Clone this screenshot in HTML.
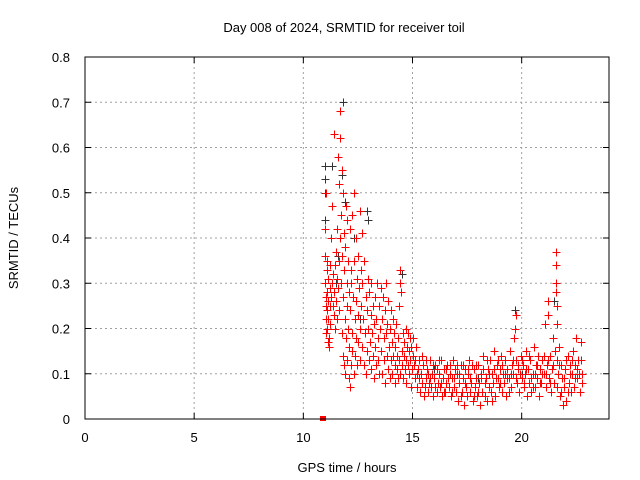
<!DOCTYPE html>
<html><head><meta charset="utf-8"><style>
body{margin:0;background:#fff;font-family:"Liberation Sans",sans-serif}
svg{display:block}
text{font-family:"Liberation Sans",sans-serif;font-size:13px;fill:#000}
</style></head><body>
<svg id="chart" width="640" height="480">
<rect width="640" height="480" fill="#fff"/>
<text x="344" y="32" text-anchor="middle">Day 008 of 2024, SRMTID for receiver toil</text>
<text x="347" y="472" text-anchor="middle">GPS time / hours</text>
<text transform="translate(18,238) rotate(-90)" text-anchor="middle">SRMTID / TECUs</text>
<g id="grid"></g>
<g id="ticks"></g>
<g id="black"></g>
<g id="red"></g>
<rect x="85" y="57" width="524" height="362" fill="none" stroke="#000" stroke-width="1"/>
</svg>
<script>
const xTicks=[0,5,10,15,20];
const yTicks=[0,0.1,0.2,0.3,0.4,0.5,0.6,0.7,0.8];
const yTickLabels=["0","0.1","0.2","0.3","0.4","0.5","0.6","0.7","0.8"];
const blackPoints=[[11.0,0.56],[11.0,0.53],[11.0,0.5],[11.0,0.44],[11.3,0.56],[11.8,0.7],[11.75,0.54],[11.9,0.48],[12.9,0.46],[12.95,0.44],[11.6,0.36],[12.3,0.4],[14.5,0.32],[21.5,0.26],[19.7,0.24],[11.5,0.3],[12.6,0.22],[16.0,0.11],[18.0,0.09],[20.0,0.1]];
const redPoints=[[11.0,0.36],[11.0,0.3],[11.02,0.27],[11.03,0.25],[11.05,0.22],[11.05,0.19],[11.07,0.33],[11.08,0.28],[11.1,0.24],[11.1,0.2],[11.12,0.17],[11.13,0.31],[11.15,0.26],[11.15,0.22],[11.17,0.18],[11.18,0.16],[11.2,0.29],[11.2,0.34],[11.22,0.25],[11.23,0.21],[11.25,0.27],[11.25,0.4],[11.0,0.42],[11.05,0.5],[11.1,0.35],[11.3,0.47],[11.3,0.3],[11.35,0.25],[11.35,0.32],
[11.4,0.63],[11.4,0.23],[11.42,0.28],[11.45,0.34],[11.45,0.2],[11.5,0.37],[11.5,0.26],[11.52,0.31],[11.55,0.42],[11.55,0.22],[11.6,0.58],[11.6,0.29],[11.62,0.35],[11.65,0.52],[11.65,0.24],[11.68,0.4],[11.7,0.68],[11.7,0.62],[11.72,0.45],[11.72,0.3],[11.75,0.55],[11.75,0.19],[11.78,0.36],[11.8,0.5],[11.8,0.27],[11.82,0.14],[11.85,0.33],[11.85,0.12],[11.88,0.41],[11.9,0.22],[11.9,0.1],[11.92,0.38],[11.95,0.47],[11.95,0.18],[11.98,0.3],[12.0,0.44],[12.0,0.13],[12.0,0.25],
[12.05,0.35],[12.05,0.2],[12.08,0.09],[12.1,0.28],[12.1,0.16],[12.12,0.42],[12.15,0.07],[12.15,0.24],[12.18,0.33],[12.2,0.12],[12.2,0.3],[12.22,0.19],[12.25,0.45],[12.25,0.15],[12.28,0.27],[12.3,0.5],[12.3,0.1],[12.32,0.35],[12.35,0.22],[12.38,0.14],[12.4,0.4],[12.4,0.26],[12.42,0.18],[12.45,0.31],[12.48,0.12],[12.5,0.36],[12.5,0.23],[12.52,0.17],[12.55,0.29],[12.58,0.46],[12.6,0.2],[12.6,0.13],[12.62,0.33],[12.65,0.25],[12.68,0.41],[12.7,0.16],[12.7,0.3],
[12.75,0.22],[12.78,0.12],[12.8,0.35],[12.82,0.19],[12.85,0.27],[12.88,0.1],[12.9,0.24],[12.92,0.15],[12.95,0.31],[12.98,0.2],[13.0,0.13],[13.0,0.28],[13.05,0.17],[13.08,0.23],[13.1,0.11],[13.12,0.3],[13.15,0.19],[13.18,0.25],[13.2,0.14],[13.22,0.21],[13.25,0.09],[13.28,0.27],[13.3,0.16],[13.32,0.12],[13.35,0.22],[13.38,0.3],[13.4,0.18],[13.42,0.13],[13.45,0.25],[13.48,0.1],[13.5,0.2],
[13.55,0.29],[13.58,0.15],[13.6,0.22],[13.62,0.1],[13.65,0.27],[13.68,0.18],[13.7,0.13],[13.72,0.24],[13.75,0.08],[13.78,0.19],[13.8,0.3],[13.82,0.14],[13.85,0.21],[13.88,0.11],[13.9,0.26],[13.92,0.16],[13.95,0.09],[13.98,0.2],[14.0,0.13],[14.02,0.24],[14.05,0.17],[14.08,0.1],[14.1,0.22],[14.12,0.14],[14.15,0.19],[14.18,0.08],[14.2,0.12],[14.22,0.16],[14.25,0.21],[14.28,0.11],[14.3,0.14],[14.32,0.09],[14.35,0.18],[14.38,0.13],[14.4,0.25],[14.42,0.1],[14.45,0.33],[14.45,0.3],[14.48,0.28],[14.5,0.15],[14.52,0.12],[14.55,0.19],[14.58,0.09],[14.6,0.14],[14.62,0.17],[14.65,0.11],[14.68,0.2],[14.7,0.13],[14.72,0.08],[14.75,0.16],[14.78,0.12],[14.8,0.19],[14.82,0.1],[14.85,0.15],[14.88,0.18],[14.9,0.13],[14.92,0.07],[14.95,0.16],[14.98,0.11],[15.0,0.14],
[15.05,0.12],[15.1,0.09],[15.15,0.16],[15.2,0.07],[15.25,0.11],[15.3,0.13],[15.35,0.06],[15.4,0.1],[15.45,0.08],[15.5,0.12],[15.55,0.07],[15.6,0.09],[15.65,0.11],[15.7,0.06],[15.75,0.08],[15.8,0.13],[15.85,0.07],[15.9,0.1],[15.95,0.05],[16.0,0.09],[16.05,0.12],[16.1,0.06],[16.15,0.08],[16.2,0.1],[16.25,0.07],[16.3,0.13],[16.35,0.05],[16.4,0.09],[16.45,0.11],[16.5,0.06],[16.55,0.08],[16.6,0.12],[16.65,0.07],[16.7,0.1],[16.75,0.05],[16.8,0.09],[16.85,0.13],[16.9,0.07],[16.95,0.11],[17.0,0.06],
[17.05,0.1],[17.1,0.04],[17.15,0.08],[17.2,0.12],[17.25,0.06],[17.3,0.09],[17.35,0.03],[17.4,0.11],[17.45,0.07],[17.5,0.05],[17.55,0.1],[17.6,0.13],[17.65,0.06],[17.7,0.08],[17.75,0.04],[17.8,0.11],[17.85,0.07],[17.9,0.09],[17.95,0.05],[18.0,0.12],[18.05,0.08],[18.1,0.03],[18.15,0.1],[18.2,0.06],[18.25,0.14],[18.3,0.05],[18.35,0.09],[18.4,0.04],[18.45,0.11],[18.5,0.07],[18.55,0.13],[18.6,0.06],[18.65,0.1],[18.7,0.08],[18.75,0.15],[18.8,0.05],[18.85,0.12],[18.9,0.09],[18.95,0.07],[19.0,0.11],
[19.05,0.14],[19.1,0.06],[19.15,0.1],[19.2,0.08],[19.25,0.13],[19.3,0.05],[19.35,0.11],[19.4,0.09],[19.45,0.15],[19.5,0.07],[19.55,0.12],[19.6,0.1],[19.65,0.18],[19.7,0.2],[19.72,0.23],[19.75,0.13],[19.8,0.08],[19.85,0.11],[19.9,0.06],[19.95,0.14],[20.0,0.09],[20.05,0.12],[20.1,0.07],[20.15,0.1],[20.2,0.15],[20.25,0.05],[20.3,0.11],[20.35,0.08],[20.4,0.13],[20.45,0.06],[20.5,0.1],[20.55,0.16],[20.6,0.07],[20.65,0.12],[20.7,0.09],[20.75,0.14],[20.8,0.05],[20.85,0.11],[20.9,0.08],[20.95,0.13],[21.0,0.1],
[21.05,0.21],[21.1,0.07],[21.15,0.12],[21.2,0.26],[21.2,0.23],[21.25,0.09],[21.3,0.14],[21.35,0.06],[21.4,0.11],[21.45,0.18],[21.5,0.08],[21.55,0.37],[21.55,0.34],[21.57,0.3],[21.58,0.28],[21.6,0.25],[21.62,0.21],[21.6,0.13],[21.65,0.1],[21.7,0.16],[21.75,0.05],[21.8,0.12],[21.85,0.09],[21.9,0.03],[21.95,0.07],[22.0,0.11],[22.05,0.04],[22.1,0.14],[22.15,0.08],[22.2,0.12],[22.25,0.06],[22.3,0.1],[22.35,0.15],[22.4,0.07],[22.45,0.12],[22.5,0.18],[22.55,0.09],[22.6,0.13],[22.65,0.06],[22.7,0.17],[22.75,0.1],
[15.02,0.18],[15.12,0.13],[15.22,0.1],[15.32,0.09],[15.42,0.14],[15.52,0.05],[15.62,0.13],[15.72,0.1],[15.82,0.09],[15.92,0.12],[16.02,0.07],[16.12,0.11],[16.22,0.13],[16.32,0.08],[16.42,0.06],[16.52,0.11],[16.62,0.09],[16.72,0.12],[16.82,0.06],[16.92,0.09],[17.02,0.12],[17.12,0.1],[17.22,0.05],[17.32,0.12],[17.42,0.08],[17.52,0.11],[17.62,0.09],[17.72,0.12],[17.82,0.05],[17.92,0.12],[18.02,0.06],[18.12,0.09],[18.22,0.11],[18.32,0.08],[18.42,0.13],[18.52,0.1],[18.62,0.04],[18.72,0.11],[18.82,0.09],[18.92,0.13],[19.02,0.08],[19.12,0.12],[19.22,0.1],[19.32,0.09],[19.42,0.06],[19.52,0.1],[19.62,0.13],[19.72,0.09],[19.82,0.12],[19.92,0.1],[20.02,0.13],[20.12,0.08],[20.22,0.11],[20.32,0.14],[20.42,0.09],[20.52,0.07],[20.62,0.1],[20.72,0.12],[20.82,0.08],[20.92,0.1],[21.02,0.14],[21.12,0.1],[21.22,0.13],[21.32,0.08],[21.42,0.12],[21.52,0.15],[21.62,0.07],[21.72,0.12],[21.82,0.06],[21.92,0.09],[22.02,0.13],[22.12,0.06],[22.22,0.1],[22.32,0.13],[22.42,0.09],[22.52,0.11],[22.62,0.1],[22.72,0.13],[22.78,0.08]];
const zeroPoints=[[10.9,0]];
const NS="http://www.w3.org/2000/svg";
const X0=85,X1=609,Y0=419,Y1=57,XMAX=24,YMAX=0.8;
function xs(t){return X0+(X1-X0)*t/XMAX;}
function ys(v){return Y0-(Y0-Y1)*v/YMAX;}
function mk(tag,attrs,parent){const e=document.createElementNS(NS,tag);for(const k in attrs)e.setAttribute(k,attrs[k]);parent.appendChild(e);return e;}
const grid=document.getElementById('grid'),ticks=document.getElementById('ticks');
yTicks.forEach((v,i)=>{const y=ys(v);
 if(i>0&&i<yTicks.length-1){const l=mk('line',{x1:X0,x2:X1,y1:y,y2:y,stroke:'#a0a0a0','stroke-dasharray':'2,3'},grid);
 
 }
 mk('line',{x1:X0,x2:X0+6,y1:y,y2:y,stroke:'#000'},ticks);
 mk('line',{x1:X1,x2:X1-6,y1:y,y2:y,stroke:'#000'},ticks);
 const t=mk('text',{x:70,y:y+5,'text-anchor':'end'},ticks);t.textContent=yTickLabels[i];
 
 
});
xTicks.forEach(v=>{const x=xs(v);
 if(v>0){const l=mk('line',{x1:x,x2:x,y1:Y0,y2:Y1,stroke:'#a0a0a0','stroke-dasharray':'2,3'},grid);
 
 }
 mk('line',{x1:x,x2:x,y1:Y0,y2:Y0-6,stroke:'#000'},ticks);
 mk('line',{x1:x,x2:x,y1:Y1,y2:Y1+6,stroke:'#000'},ticks);
 const t=mk('text',{x:x,y:442,'text-anchor':'middle'},ticks);t.textContent=String(v);
 
 
});
function plus(pts,g,col,name){let d='';pts.forEach(p=>{const x=Math.round(xs(p[0]))+0.5,y=Math.round(ys(p[1]))+0.5;d+=`M${x-4} ${y}H${x+4}M${x} ${y-4}V${y+4}`;});
 const e=mk('path',{d:d,stroke:col,'stroke-width':1,fill:'none'},g);
 
 }
plus(blackPoints,document.getElementById('black'),'#333','black-points');
plus(redPoints,document.getElementById('red'),'#ff0000','red-points');
zeroPoints.forEach(p=>{const r=mk('rect',{x:xs(p[0])-3,y:ys(p[1])-3,width:6,height:5,fill:'#ff0000'},document.getElementById('red'));
 
 });
</script>
</body></html>
